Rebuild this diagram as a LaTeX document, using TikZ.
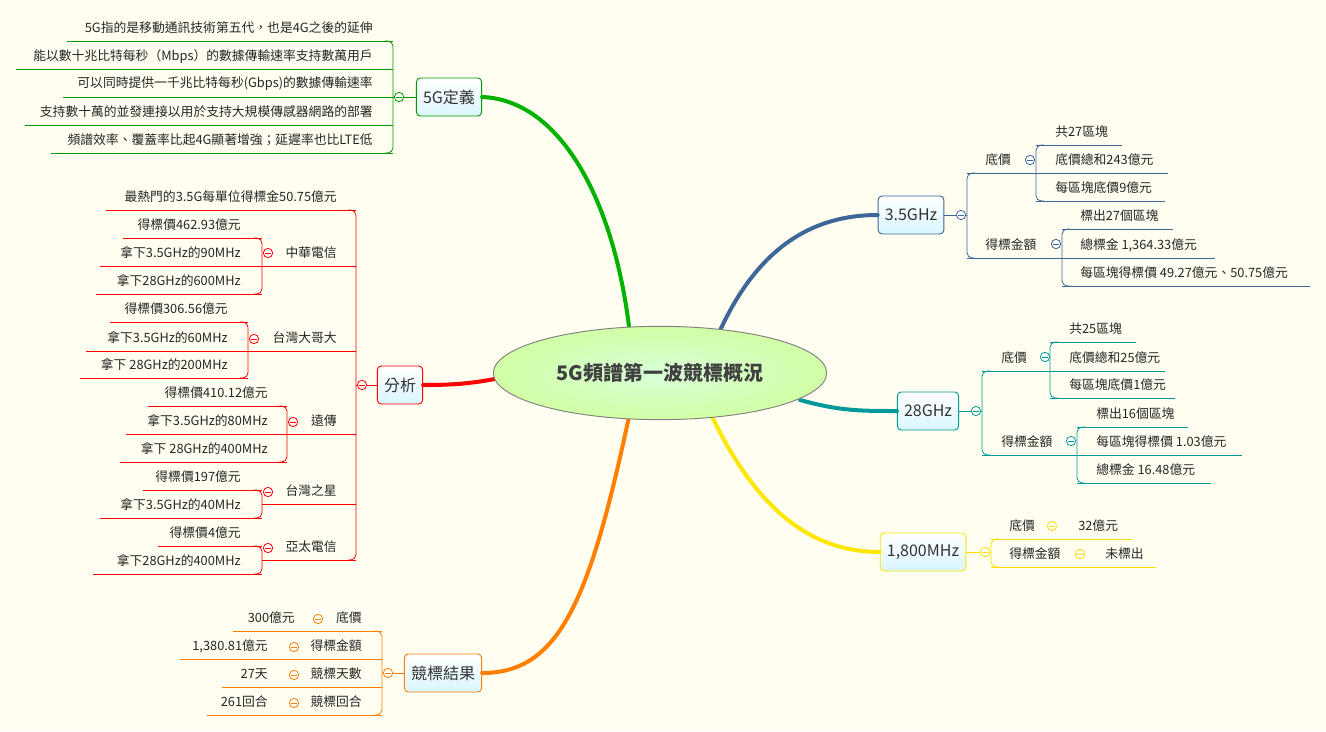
\documentclass[tikz,border=0pt]{standalone}
\usepackage{fontspec}
\setmainfont{Noto Sans CJK TC}
\usetikzlibrary{shapes.geometric}
\begin{document}
\begin{tikzpicture}[x=0.75pt,y=-0.75pt,
 lt/.style={inner sep=0pt,font=\fontsize{9.6}{11}\selectfont,text=black!85},
 br/.style={draw=black},
 cc/.style={circle,draw=black,fill=white,inner sep=0pt,minimum size=7pt,line width=0.6pt,
   path picture={\draw[line width=0.6pt] ([xshift=-2pt]path picture bounding box.center)--([xshift=2pt]path picture bounding box.center);}},
 mn/.style={draw=#1,rounded corners=3pt,line width=0.7pt,top color=white,bottom color=blue!25!cyan!15,minimum height=28.5pt,inner sep=5pt,font=\fontsize{12}{14}\selectfont,text=black!80}]
\fill[yellow!6] (0,0) rectangle (1326,731);
\useasboundingbox (0,0) rectangle (1326,731);
\newcommand\RL[5]{\draw[br] (#1,#3)--(#2,#3); \node[lt,anchor=west] at (#4,{#3-13}) {#5};}
\newcommand\LL[5]{\draw[br] (#1,#3)--(#2,#3); \node[lt,anchor=east] at (#4,{#3-13}) {#5};}
\newcommand\BR[4]{\draw[br,rounded corners=4pt] ({#1+#4*8},#2)--(#1,#2)--(#1,#3)--({#1+#4*8},#3);}
\newcommand\CC[2]{\node[cc,draw=brc] at (#1,#2) {};}
% main nodes
\node[mn=green!60!black] (def) at (449,97) {5G定義};
\node[mn=cyan!50!blue!70!black] (a35) at (911,215) {3.5GHz};
\node[mn=teal!80!cyan] (a28) at (928,411) {28GHz};
\node[mn=yellow!90!orange] (a18) at (923,552) {1,800MHz};
\node[mn=orange] (res) at (443,673) {競標結果};
\node[mn=red] (ana) at (400,385) {分析};
% branches
\begin{scope}[line cap=round]
\draw[line width=3pt,color=green!70!black] (630,335) .. controls (615,200) and (560,100) .. (def.east);
\draw[line width=3pt,color=cyan!50!blue!70!black] (718,335) .. controls (760,240) and (820,215) .. (a35.west);
\draw[line width=3pt,color=teal!80!cyan] (800,400) .. controls (840,411) and (860,411) .. (a28.west);
\draw[line width=3pt,color=yellow!90!orange] (710,412) .. controls (760,520) and (820,552) .. (a18.west);
\draw[line width=3pt,color=orange] (630,412) .. controls (590,600) and (560,673) .. (res.east);
\draw[line width=3pt,color=red] (500,378) .. controls (470,384) and (450,385) .. (ana.east);
\end{scope}
% central
\node[ellipse,draw=gray,line width=0.7pt,minimum width=250pt,minimum height=70pt,inner color=green!15,outer color=green!35!lime!35,font=\bfseries\fontsize{15}{18}\selectfont,text=black!75] (c) at (660,373) {5G頻譜第一波競標概況};
% 5G定義
\colorlet{brc}{green!60!black}
\begin{scope}[br/.style={draw=brc,line width=0.6pt}]
\BR{393}{41}{153}{-1}
\draw[br] (393,97)--(def.west);
\LL{67}{393}{41}{373}{5G指的是移動通訊技術第五代，也是4G之後的延伸}
\LL{16}{393}{69}{373}{能以數十兆比特每秒（Mbps）的數據傳輸速率支持數萬用戶}
\LL{63}{393}{97}{373}{可以同時提供一千兆比特每秒(Gbps)的數據傳輸速率}
\LL{25}{393}{125}{373}{支持數十萬的並發連接以用於支持大規模傳感器網路的部署}
\LL{51}{393}{153}{373}{頻譜效率、覆蓋率比起4G顯著增強；延遲率也比LTE低}
\CC{399}{97}
\end{scope}
% 3.5GHz
\colorlet{brc}{cyan!50!blue!70!black}
\begin{scope}[br/.style={draw=brc,line width=0.6pt}]
\draw[br] (a35.east)--(967,215);
\BR{967}{173}{258}{1}
\RL{967}{1036}{173}{985}{底價}
\BR{1036}{145}{201}{1}
\RL{1036}{1122}{145}{1055}{共27區塊}
\RL{1036}{1168}{173}{1055}{底價總和243億元}
\RL{1036}{1165}{201}{1055}{每區塊底價9億元}
\RL{967}{1062}{258}{985}{得標金額}
\BR{1062}{229}{286}{1}
\RL{1062}{1173}{229}{1080}{標出27個區塊}
\RL{1062}{1215}{258}{1080}{總標金 1,364.33億元}
\RL{1062}{1310}{286}{1080}{每區塊得標價 49.27億元、50.75億元}
\CC{961}{215}\CC{1030}{160}\CC{1056}{244}
\end{scope}
% 28GHz
\colorlet{brc}{teal!80!cyan}
\begin{scope}[br/.style={draw=brc,line width=0.6pt}]
\draw[br] (a28.east)--(982,411);
\BR{982}{371}{455}{1}
\RL{982}{1050}{371}{1001}{底價}
\BR{1050}{342}{398}{1}
\RL{1050}{1136}{342}{1069}{共25區塊}
\RL{1050}{1165}{371}{1069}{底價總和25億元}
\RL{1050}{1175}{398}{1069}{每區塊底價1億元}
\RL{982}{1077}{455}{1001}{得標金額}
\BR{1077}{427}{483}{1}
\RL{1077}{1188}{427}{1096}{標出16個區塊}
\RL{1077}{1242}{455}{1096}{每區塊得標價 1.03億元}
\RL{1077}{1211}{483}{1096}{總標金 16.48億元}
\CC{976}{411}\CC{1045}{357}\CC{1071}{441}
\end{scope}
% 1800
\colorlet{brc}{yellow!80!orange}
\begin{scope}[br/.style={draw=brc,line width=0.6pt}]
\draw[br] (a18.east)--(991,552);
\BR{991}{539}{567}{1}
\RL{991}{1133}{539}{1009}{底價}
\node[lt,anchor=west] at (1078,526) {32億元};
\RL{991}{1156}{567}{1009}{得標金額}
\node[lt,anchor=west] at (1105,554) {未標出};
\CC{985}{552}\CC{1052}{526}\CC{1080}{554}
\end{scope}
% 分析
\colorlet{brc}{red}
\begin{scope}[br/.style={draw=brc,line width=0.6pt}]
\draw[br] (ana.west)--(356,385);
\BR{356}{210}{560}{-1}
\LL{106}{356}{210}{337}{最熱門的3.5G每單位得標金50.75億元}
\LL{262}{356}{266}{337}{中華電信}
\BR{262}{238}{294}{-1}
\LL{123}{262}{238}{241}{得標價462.93億元}
\LL{100}{262}{266}{241}{拿下3.5GHz的90MHz}
\LL{96}{262}{294}{241}{拿下28GHz的600MHz}
\LL{248}{356}{351}{337}{台灣大哥大}
\BR{248}{322}{378}{-1}
\LL{110}{248}{322}{228}{得標價306.56億元}
\LL{86}{248}{351}{228}{拿下3.5GHz的60MHz}
\LL{80}{248}{378}{228}{拿下 28GHz的200MHz}
\LL{287}{356}{434}{337}{遠傳}
\BR{287}{406}{462}{-1}
\LL{148}{287}{406}{268}{得標價410.12億元}
\LL{126}{287}{434}{268}{拿下3.5GHz的80MHz}
\LL{120}{287}{462}{268}{拿下 28GHz的400MHz}
\LL{262}{356}{504}{337}{台灣之星}
\BR{262}{490}{518}{-1}
\LL{143}{262}{490}{241}{得標價197億元}
\LL{100}{262}{518}{241}{拿下3.5GHz的40MHz}
\LL{262}{356}{560}{337}{亞太電信}
\BR{262}{546}{574}{-1}
\LL{158}{262}{546}{241}{得標價4億元}
\LL{93}{262}{574}{241}{拿下28GHz的400MHz}
\CC{362}{385}\CC{268}{253}\CC{254}{339}\CC{293}{422}\CC{268}{492}\CC{268}{548}
\end{scope}
% 競標結果
\colorlet{brc}{orange}
\begin{scope}[br/.style={draw=brc,line width=0.6pt}]
\draw[br] (res.west)--(382,673);
\BR{382}{631}{715}{-1}
\LL{233}{382}{631}{362}{底價}
\LL{180}{382}{659}{362}{得標金額}
\LL{222}{382}{687}{362}{競標天數}
\LL{207}{382}{715}{362}{競標回合}
\node[lt,anchor=east] at (295,618) {300億元};
\node[lt,anchor=east] at (268,646) {1,380.81億元};
\node[lt,anchor=east] at (268,674) {27天};
\node[lt,anchor=east] at (268,702) {261回合};
\CC{388}{673}\CC{318}{619}\CC{294}{647}\CC{294}{675}\CC{294}{703}
\end{scope}
\end{tikzpicture}
\end{document}
